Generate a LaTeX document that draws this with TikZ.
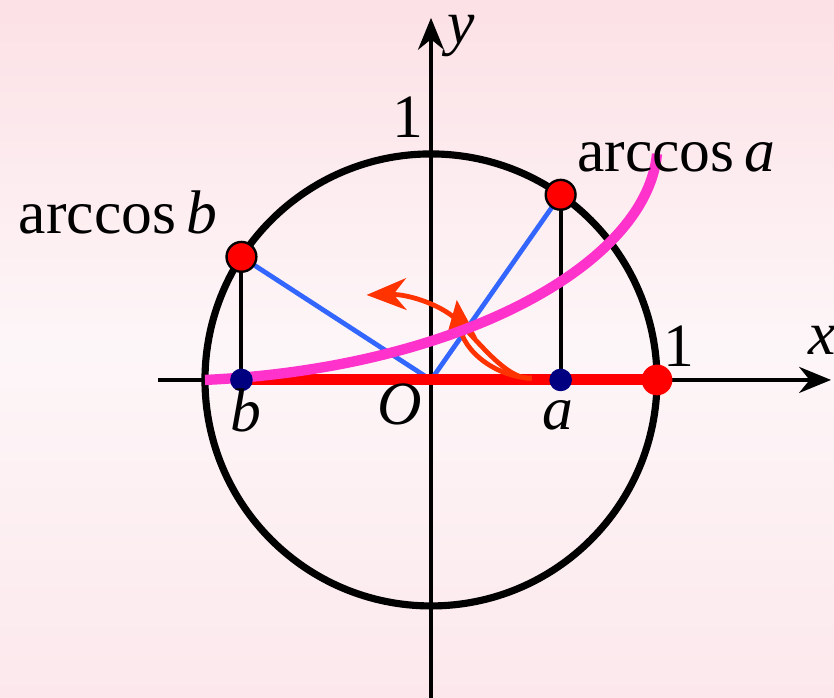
\documentclass[tikz,border=0pt]{standalone}
\usepackage{fontspec}
\setmainfont{Liberation Serif}
\usetikzlibrary{arrows.meta}

\definecolor{bgtop}{HTML}{FCE1E6}
\definecolor{bgmid}{HTML}{FDF6F8}
\definecolor{bgbot}{HTML}{FCE8EC}
\definecolor{curvepink}{HTML}{FF33CC}
\definecolor{rayblue}{HTML}{3366FF}
\definecolor{turnred}{HTML}{FF3300}
\definecolor{dotnavy}{HTML}{000080}

\begin{document}
\begin{tikzpicture}[x=2cm, y=2cm, thick,
    axis/.style={black, line width=1.2pt, -{Stealth[length=8pt, width=6.5pt]}},
    turn/.style={turnred, line width=1.2pt, -{Stealth[length=10pt, width=8pt]}},
    lbl/.style={inner sep=0pt, anchor=base, font=\fontsize{15.5}{18}\selectfont}]
        % Background
        \shade[top color=bgtop, bottom color=bgbot, middle color=bgmid] (-1.907,-1.407) rectangle (1.783,1.681);
        \useasboundingbox (-1.907,-1.407) rectangle (1.783,1.681);

        % Points
        \coordinate (O) at (0,0);
        \coordinate (A) at (55:1);
        \coordinate (B) at (147:1);
        \coordinate (a) at (A |- O);
        \coordinate (b) at (B |- O);
        \coordinate (E) at (1,0);
        \coordinate (xstart) at (-1.208,0);
        \coordinate (xend) at (1.77,0);
        \coordinate (ystart) at (0,-1.407);
        \coordinate (yend) at (0,1.602);
        \coordinate (tail) at (0.445,0.008);
        \coordinate (cross) at (0.13,0.25);

        % Axes
        \draw[axis] (xstart) -- (xend);
        \draw[axis] (ystart) -- (yend);

        % Unit circle
        \draw[line width=1.8pt] (O) circle (1);

        % Rays and projections
        \draw[rayblue, line width=1.2pt] (O) -- (A);
        \draw[rayblue, line width=1.2pt] (O) -- (B);
        \draw[line width=1pt] (A) -- (a);
        \draw[line width=1pt] (B) -- (b);

        % Interval
        \draw[red, line width=2.8pt] (b) -- (E);

        % Turning arrows
        \draw[turn] (tail) .. controls (0.35,0.0) and (0.25,0.12) .. (cross)
            .. controls (0.06,0.33) and (-0.1,0.38) .. (-0.285,0.376);
        \draw[turn] (tail) .. controls (0.30,0.01) and (0.14,0.12) .. (0.114,0.354);

        % arccos curve
        \draw[curvepink, line width=2.6pt] (-1,0) .. controls (0.1,0.05) and (0.95,0.5) .. (1,1);

        % Dots
        \foreach \p in {a, b}
            \fill[dotnavy] (\p) circle (0.05);
        \foreach \p in {A, B}
            \filldraw[fill=red, draw=black, line width=0.6pt] (\p) circle (0.066);
        \fill[red] (E) circle (0.068);

        % Labels
        \node[lbl, anchor=base west] (arca) at (0.64,0.922) {arccos\,\textit{a}};
        \node[lbl, anchor=base west] (arcb) at (-1.83,0.65) {arccos\,\textit{b}};
        \node[lbl] (oney) at (-0.104,1.071) {1};
        \node[lbl] (onex) at (1.095,0.058) {1};
        \node[lbl] (ylbl) at (0.135,1.49) {\textit{y}};
        \node[lbl, anchor=base west] (xlbl) at (1.665,0.111) {\textit{x}};
        \node[lbl] (olbl) at (-0.137,-0.199) {\textit{O}};
        \node[lbl] (albl) at (0.56,-0.221) {\textit{a}};
        \node[lbl] (blbl) at (-0.819,-0.23) {\textit{b}};
\end{tikzpicture}
\end{document}
